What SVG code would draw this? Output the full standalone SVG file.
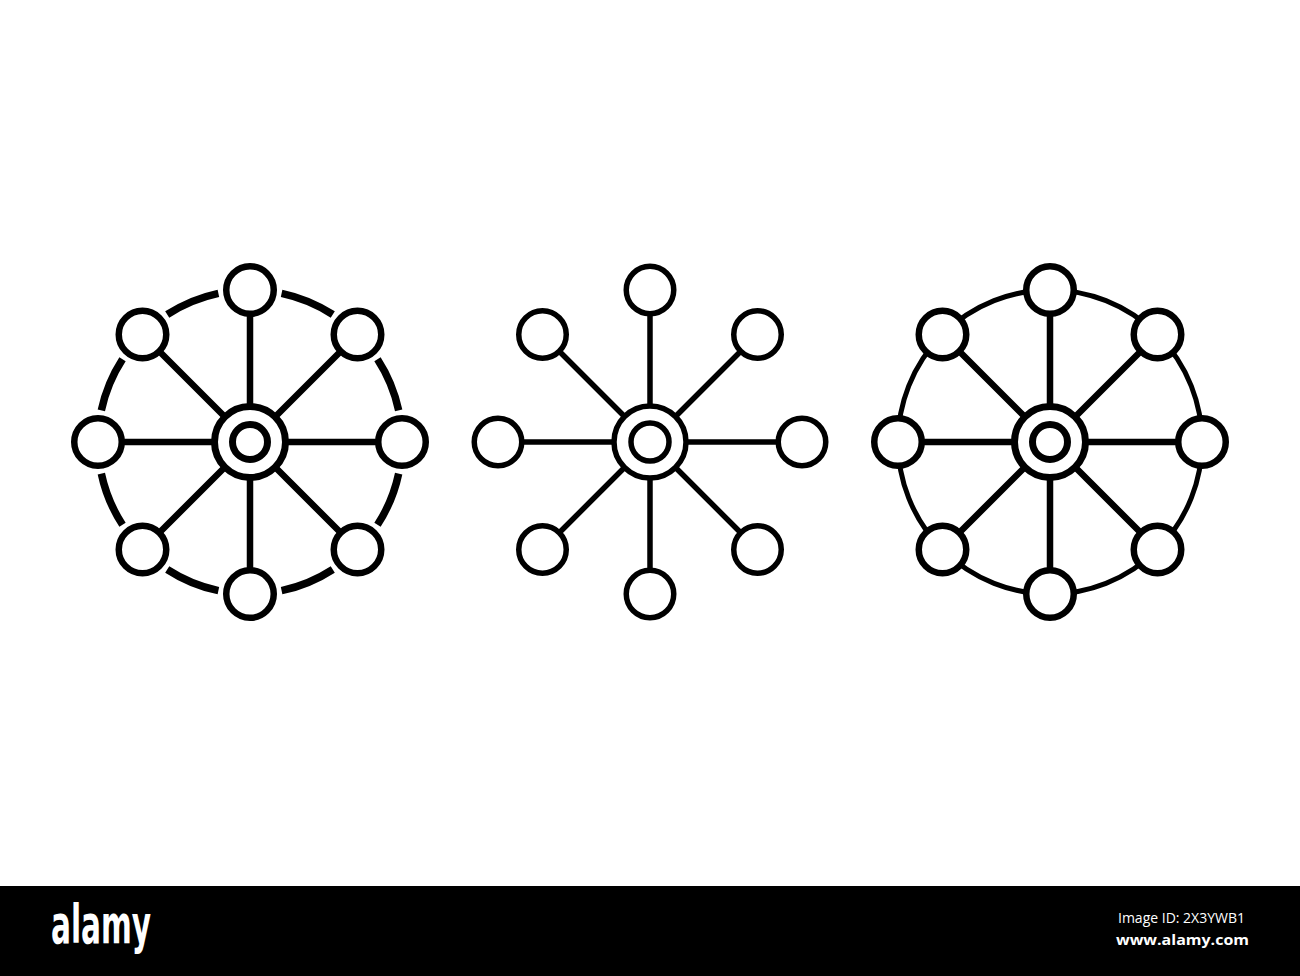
<svg xmlns="http://www.w3.org/2000/svg" width="1300" height="976" viewBox="0 0 1300 976">
<style>
.node{fill:#fff;stroke:#000;stroke-width:6.5}
.node2{fill:#fff;stroke:#000;stroke-width:5.5}
.spoke{stroke:#000;stroke-width:6.5;fill:none}
.spoke2{stroke:#000;stroke-width:5.5;fill:none}
.ring{fill:#fff;stroke:#000;stroke-width:7}
.ring2{fill:#fff;stroke:#000;stroke-width:5.5}
.rim1{fill:none;stroke:#000;stroke-width:7.5}
.rim3{fill:none;stroke:#000;stroke-width:5}
</style>
<defs>
<g id="spokes">
<path d="M0-36V-128M0 36V128M-36 0H-128M36 0H128M25.5-25.5L90.5-90.5M-25.5-25.5L-90.5-90.5M25.5 25.5L90.5 90.5M-25.5 25.5L-90.5 90.5"/>
</g>
<g id="nodes">
<circle cx="0" cy="-152" r="23.75"/>
<circle cx="107.5" cy="-107.5" r="23.75"/>
<circle cx="152" cy="0" r="23.75"/>
<circle cx="107.5" cy="107.5" r="23.75"/>
<circle cx="0" cy="152" r="23.75"/>
<circle cx="-107.5" cy="107.5" r="23.75"/>
<circle cx="-152" cy="0" r="23.75"/>
<circle cx="-107.5" cy="-107.5" r="23.75"/>
</g>
</defs>
<rect width="1300" height="976" fill="#fff"/>
<g id="connectors">
<g transform="translate(250,442)" class="spoke"><use href="#spokes"/></g>
<g transform="translate(650,442)" class="spoke2"><use href="#spokes"/></g>
<g transform="translate(1050,442)" class="spoke"><use href="#spokes"/></g>
<path class="rim1" transform="translate(250,442)" d="M148.67 31.6A152 152 0 0 1 127.48 82.78M82.78 127.48A152 152 0 0 1 31.6 148.67M-31.6 148.67A152 152 0 0 1 -82.78 127.48M-127.48 82.78A152 152 0 0 1 -148.67 31.6M-148.67 -31.6A152 152 0 0 1 -127.48 -82.78M-82.78 -127.48A152 152 0 0 1 -31.6 -148.67M31.6 -148.67A152 152 0 0 1 82.78 -127.48M127.48 -82.78A152 152 0 0 1 148.67 -31.6"/>
<circle class="rim3" cx="1050" cy="442" r="152"/>
</g>
<g id="wheel1" transform="translate(250,442)">
<g class="node"><use href="#nodes"/></g>
<circle class="ring" r="35.5"/>
<circle class="ring" r="17.5"/>
</g>
<g id="wheel2" transform="translate(650,442)">
<g class="node2"><use href="#nodes"/></g>
<circle class="ring2" r="36"/>
<circle class="ring2" r="19"/>
</g>
<g id="wheel3" transform="translate(1050,442)">
<g class="node"><use href="#nodes"/></g>
<circle class="ring" r="35.5"/>
<circle class="ring" r="17.5"/>
</g>
<g id="banner">
<rect x="0" y="886" width="1300" height="90" fill="#000"/>
<text x="51" y="943" font-family="'DejaVu Sans Condensed','DejaVu Sans',sans-serif" font-weight="bold" font-size="54" fill="#fff" textLength="100" lengthAdjust="spacingAndGlyphs">alamy</text>
<text x="1118" y="923" font-family="'Open Sans','Noto Sans',sans-serif" font-size="14" fill="#fff" textLength="127" lengthAdjust="spacingAndGlyphs">Image ID: 2X3YWB1</text>
<text x="1116" y="945" font-family="'Open Sans','Noto Sans',sans-serif" font-weight="bold" font-size="15" fill="#fff" textLength="133" lengthAdjust="spacingAndGlyphs">www.alamy.com</text>
</g>
</svg>
